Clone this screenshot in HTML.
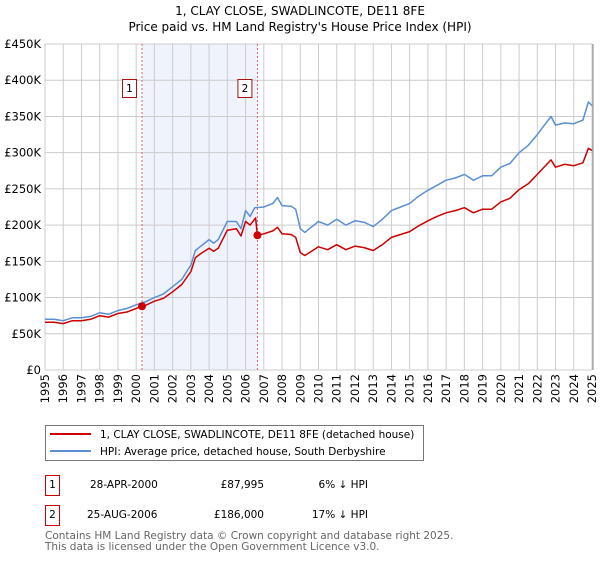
<!DOCTYPE html>
<html><head><meta charset="utf-8"><style>
body{margin:0;background:#fff;font-family:"DejaVu Sans","Liberation Sans",sans-serif;}
svg text{font-family:"DejaVu Sans","Liberation Sans",sans-serif;}
</style></head><body>
<svg id="c" width="600" height="560" xmlns="http://www.w3.org/2000/svg">
<text x="300" y="15" text-anchor="middle" font-size="12">1, CLAY CLOSE, SWADLINCOTE, DE11 8FE</text>
<text x="300" y="31" text-anchor="middle" font-size="12">Price paid vs. HM Land Registry's House Price Index (HPI)</text>
<g id="plot"></g>
<g>
<rect x="45.5" y="425.5" width="378" height="35" fill="#fff" stroke="#777"/>
<line x1="50" y1="434" x2="91" y2="434" stroke="#cc0000" stroke-width="2"/>
<text x="100" y="438" font-size="10.5">1, CLAY CLOSE, SWADLINCOTE, DE11 8FE (detached house)</text>
<line x1="50" y1="451" x2="91" y2="451" stroke="#5b8fd4" stroke-width="2"/>
<text x="100" y="455" font-size="10.5">HPI: Average price, detached house, South Derbyshire</text>
</g>
<g font-size="10.5">
<rect x="45.5" y="475.5" width="14" height="20" fill="#fff" stroke="#cc0000"/>
<text x="52.5" y="488" text-anchor="middle">1</text>
<text x="90" y="488">28-APR-2000</text><text x="264" y="488" text-anchor="end">£87,995</text><text x="368" y="488" text-anchor="end">6% ↓ HPI</text>
<rect x="45.5" y="505.5" width="14" height="20" fill="#fff" stroke="#cc0000"/>
<text x="52.5" y="518" text-anchor="middle">2</text>
<text x="87" y="518">25-AUG-2006</text><text x="264" y="518" text-anchor="end">£186,000</text><text x="368" y="518" text-anchor="end">17% ↓ HPI</text>
</g>
<text x="45" y="539" font-size="10.5" fill="#666">Contains HM Land Registry data © Crown copyright and database right 2025.</text>
<text x="45" y="550" font-size="10.5" fill="#666">This data is licensed under the Open Government Licence v3.0.</text>
</svg>
<script>
const hpiYears=[1995,1995.5,1996,1996.5,1997,1997.5,1998,1998.5,1999,1999.5,2000,2000.5,2001,2001.5,2002,2002.5,2003,2003.25,2003.5,2004,2004.25,2004.5,2005,2005.5,2005.75,2006,2006.25,2006.5,2007,2007.5,2007.75,2008,2008.5,2008.75,2009,2009.25,2009.5,2010,2010.5,2011,2011.5,2012,2012.5,2013,2013.5,2014,2014.5,2015,2015.5,2016,2016.5,2017,2017.5,2018,2018.5,2019,2019.5,2020,2020.5,2021,2021.5,2022,2022.75,2023,2023.5,2024,2024.5,2024.8,2025];
const hpiValues=[70,70,68,72,72,74,79,77,82,85,90,94,100,105,115,125,145,165,170,180,175,180,205,205,195,220,212,224,225,230,238,227,226,222,195,190,195,205,200,208,200,206,204,198,208,220,225,230,240,248,255,262,265,270,262,268,268,280,285,300,310,325,350,338,341,340,345,370,365];
const ppYears=[1995,1995.5,1996,1996.5,1997,1997.5,1998,1998.5,1999,1999.5,2000,2000.32,2000.5,2001,2001.5,2002,2002.5,2003,2003.25,2003.5,2004,2004.25,2004.5,2005,2005.5,2005.75,2006,2006.25,2006.55,2006.65,2007,2007.5,2007.75,2008,2008.5,2008.75,2009,2009.25,2009.5,2010,2010.5,2011,2011.5,2012,2012.5,2013,2013.5,2014,2014.5,2015,2015.5,2016,2016.5,2017,2017.5,2018,2018.5,2019,2019.5,2020,2020.5,2021,2021.5,2022,2022.75,2023,2023.5,2024,2024.5,2024.8,2025];
const ppValues=[66,66,64,68,68,70,75,73,78,80,85,88,89,95,99,108,118,136,155,160,168,164,168,193,195,185,205,200,210,186,188,192,197,188,187,183,162,158,162,170,166,173,166,171,169,165,173,183,187,191,199,206,212,217,220,224,217,222,222,232,237,249,257,270,290,280,284,282,286,306,303];
const sales=[{year:2000.32,value:87.995,label:"1"},{year:2006.65,value:186,label:"2"}];
const yTicks=[0,50,100,150,200,250,300,350,400,450];
const xTicks=[1995,1996,1997,1998,1999,2000,2001,2002,2003,2004,2005,2006,2007,2008,2009,2010,2011,2012,2013,2014,2015,2016,2017,2018,2019,2020,2021,2022,2023,2024,2025];
const X0=45,X1=592,Y0=370,Y1=44;
const xs=y=>X0+(y-1995)/30*(X1-X0);
const ys=v=>Y0-v/450*(Y0-Y1);
const NS="http://www.w3.org/2000/svg";
const g=document.getElementById('plot');
function mk(t,a,p){const e=document.createElementNS(NS,t);for(const k in a)e.setAttribute(k,a[k]);(p||g).appendChild(e);return e;}
const shade=mk('rect',{x:xs(sales[0].year),y:Y1,width:xs(sales[1].year)-xs(sales[0].year),height:Y0-Y1,fill:'#eef3fc'});


yTicks.forEach(v=>{
 const l=mk('line',{x1:X0,x2:X1,y1:ys(v),y2:ys(v),stroke:'#ccc','stroke-width':1});
 
 
 const t=mk('text',{x:X0-4,y:ys(v)+4,'text-anchor':'end','font-size':'11.5'});
 t.textContent=v===0?'£0':'£'+v+'K';
 
 
});
xTicks.forEach(y=>{
 const l=mk('line',{x1:xs(y),x2:xs(y),y1:Y1,y2:Y0,stroke:'#ccc','stroke-width':1});
 
 
 const tx=xs(y)+4, ty=Y0+4;
 const t=mk('text',{x:tx,y:ty,'text-anchor':'end','font-size':'11.5',transform:'rotate(-90 '+tx+' '+ty+')'});
 t.textContent=y;
 
 
});
sales.forEach(s=>{
 const l=mk('line',{x1:xs(s.year),x2:xs(s.year),y1:Y1,y2:Y0,stroke:'#e06070','stroke-width':1,'stroke-dasharray':'2,2'});
 
 
});
function path(xa,va,col,name){
 const d=xa.map((y,i)=>(i?'L':'M')+xs(y).toFixed(1)+','+ys(va[i]).toFixed(1)).join('');
 const p=mk('path',{d:d,fill:'none',stroke:col,'stroke-width':1.5,'stroke-linejoin':'round'});
 
 
}
path(hpiYears,hpiValues,'#5b8fd4','hpi-line');
path(ppYears,ppValues,'#cc0000','price-paid-line');
sales.forEach(s=>{
 const c=mk('circle',{cx:xs(s.year),cy:ys(s.value),r:4,fill:'#cc0000'});
 
 
 const r=mk('rect',{x:xs(s.year)-19.5,y:79.5,width:14,height:18,fill:'#fff',stroke:'#aa1111'});
 
 
 const t=mk('text',{x:xs(s.year)-12.5,y:92,'text-anchor':'middle','font-size':'10.5'});
 t.textContent=s.label;
 
 
});
const ax=mk('line',{x1:X1+1,x2:X1+1,y1:Y1,y2:Y0,stroke:'#888','stroke-width':1});


</script>
</body></html>
